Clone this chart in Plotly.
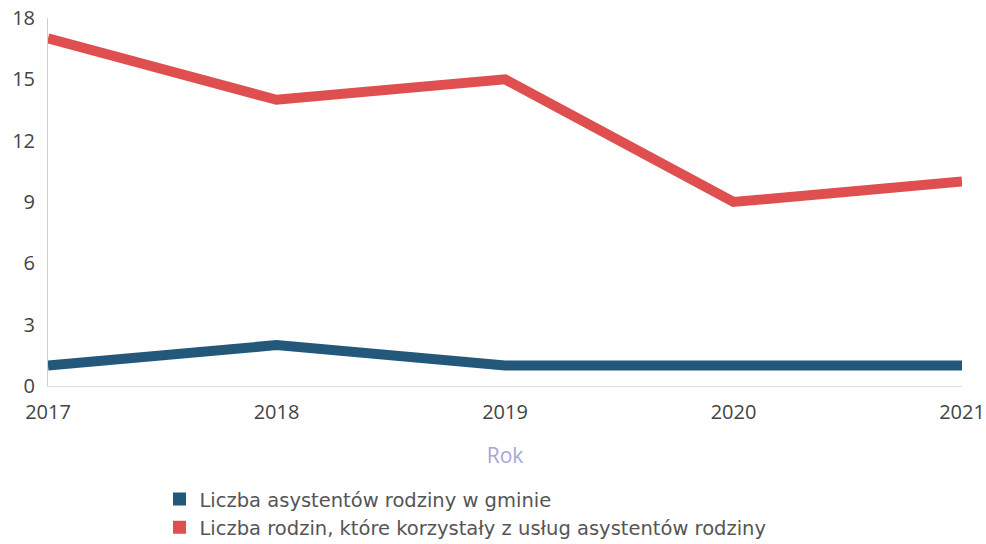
import plotly.graph_objects as go

years = ["2017", "2018", "2019", "2020", "2021"]
asystenci = [1, 2, 1, 1, 1]
rodziny = [17, 14, 15, 9, 10]
y_ticks = [0, 3, 6, 9, 12, 15, 18]
names = ["Liczba asystentów rodziny w gminie",
         "Liczba rodzin, które korzystały z usług asystentów rodziny"]
colors = ["#23587a", "#df4f4f"]

fig = go.Figure()
for vals, name, col in zip([asystenci, rodziny], names, colors):
    fig.add_trace(go.Scatter(x=years, y=vals, mode="lines", name=name,
                             showlegend=False, line=dict(color=col, width=10)))
    fig.add_trace(go.Scatter(x=[None], y=[None], mode="markers", name=name,
                             marker=dict(symbol="square", size=13, color=col)))

fig.update_layout(
    width=986, height=544,
    margin=dict(l=48, r=24, t=18, b=158, autoexpand=False),
    paper_bgcolor="white", plot_bgcolor="white",
    font=dict(family="Open Sans", color="#444444", size=20),
    showlegend=True,
    legend=dict(x=0.122, y=-0.255, xanchor="left", yanchor="top",
                font=dict(family="DejaVu Sans", size=19.5, color="#555555"),
                tracegroupgap=0, itemwidth=30),
    xaxis=dict(type="category", range=[0, 4], showgrid=False, zeroline=False,
               showline=True, linecolor="#dcdcea", linewidth=1, automargin=False,
               tickfont=dict(size=20, color="#444444"), ticks="",
               ticklabelstandoff=8,
               title=dict(text="Rok", font=dict(size=21, color="#a4a8d4"), standoff=24)),
    yaxis=dict(range=[0, 18], tickvals=y_ticks, showgrid=False, zeroline=False,
               showline=True, linecolor="#c8cce8", linewidth=1, automargin=False,
               tickfont=dict(size=20, color="#444444"), ticks="", ticklabelstandoff=8),
)

fig.write_html("out.html", config={"displayModeBar": False},
               post_script="document.body.style.margin='0';")
